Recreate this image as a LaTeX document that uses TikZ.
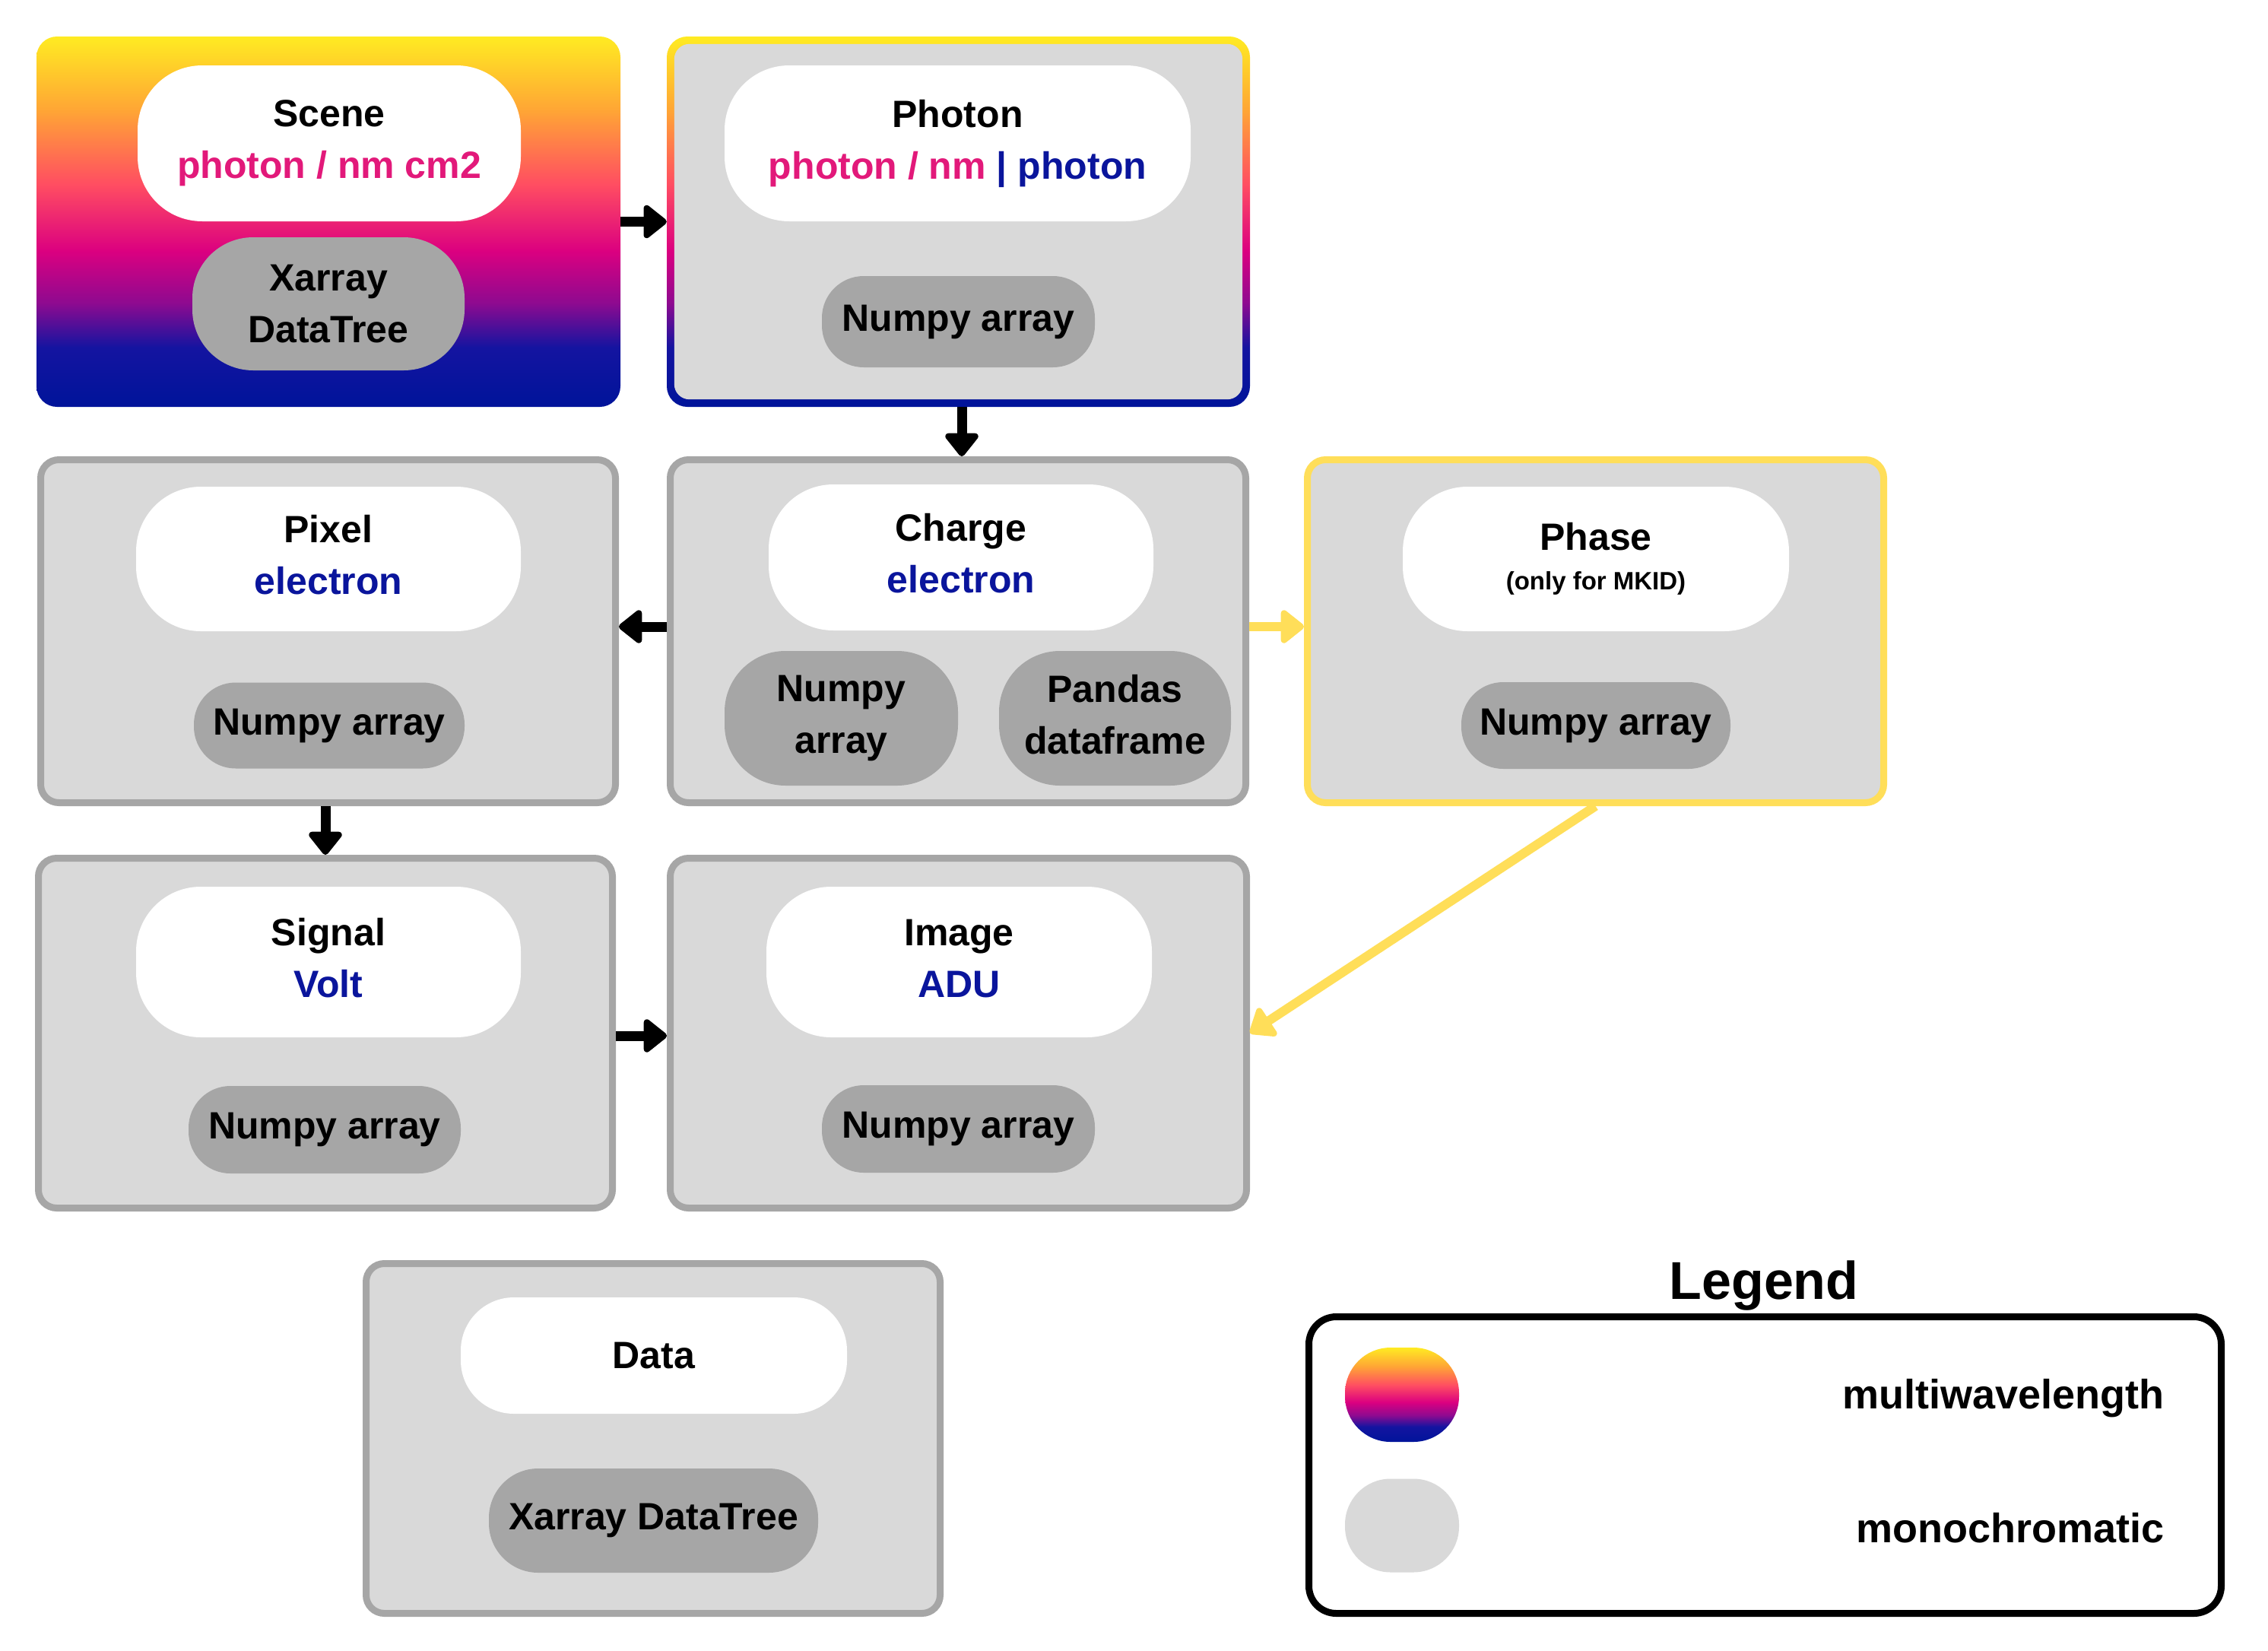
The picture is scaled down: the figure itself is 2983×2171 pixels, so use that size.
\documentclass[tikz,border=0pt]{standalone}
\usepackage{fontspec}
\setmainfont{Liberation Sans}
\usetikzlibrary{arrows.meta}
\definecolor{BoxFill}{HTML}{D9D9D9}
\definecolor{BoxLine}{HTML}{A6A6A6}
\definecolor{PillGray}{HTML}{A6A6A6}
\definecolor{MkidYellow}{HTML}{FFDE59}
\definecolor{UnitPink}{HTML}{E2197A}
\definecolor{UnitBlue}{HTML}{0A159C}
\definecolor{SpecYellow}{HTML}{FFEB22}
\definecolor{SpecOrange}{HTML}{FFA535}
\definecolor{SpecCoral}{HTML}{FF4D62}
\definecolor{SpecMagenta}{HTML}{DB0080}
\definecolor{SpecPurple}{HTML}{8E0A90}
\definecolor{SpecIndigo}{HTML}{1414A0}
\definecolor{SpecDeep}{HTML}{00149A}
\pgfdeclareverticalshading{spectrum}{100bp}{color(0bp)=(SpecDeep); color(25bp)=(SpecDeep);
  color(33bp)=(SpecIndigo); color(39bp)=(SpecPurple); color(46bp)=(SpecMagenta);
  color(55bp)=(SpecCoral); color(65bp)=(SpecOrange); color(75bp)=(SpecYellow); color(100bp)=(SpecYellow)}

\begin{document}
\begin{tikzpicture}[x=1pt,y=-1pt,>={Triangle[length=33pt,width=50pt,round]},
    font=\bfseries\fontsize{50}{68}\selectfont]
  \tikzstyle{stagebox}=[draw=BoxLine,fill=BoxFill,line width=9pt,rounded corners=24pt,inner sep=0pt]
  \tikzstyle{specbox}=[shade,shading=spectrum,rounded corners=27pt,inner sep=0pt]
  \tikzstyle{namepill}=[fill=white,rounded corners=85pt,align=center,inner sep=0pt]
  \tikzstyle{typepill}=[fill=PillGray,rounded corners=55pt,align=center,inner sep=0pt]
  \tikzstyle{flow}=[->,line width=13pt,draw=black]
  \tikzstyle{mkflow}=[->,line width=12pt,draw=MkidYellow]
  \useasboundingbox (0,0) rectangle (2983,2171);

  % stages
  \node[specbox,minimum width=768pt,minimum height=487pt] (scene) at (432,291.5) {};
  \node[specbox,minimum width=767pt,minimum height=487pt] (photon) at (1260.5,291.5) {};
  \fill[BoxFill,rounded corners=20pt] ([shift={(10,10)}]photon.north west) rectangle ([shift={(-10,-10)}]photon.south east);
  \node[stagebox,minimum width=756pt,minimum height=451pt] (pixel) at (431.5,830) {};
  \node[stagebox,minimum width=757pt,minimum height=451pt] (charge) at (1260,830) {};
  \node[stagebox,draw=MkidYellow,minimum width=758pt,minimum height=451pt] (phase) at (2098.5,830) {};
  \node[stagebox,minimum width=755pt,minimum height=460pt] (signal) at (428,1358.5) {};
  \node[stagebox,minimum width=758pt,minimum height=460pt] (image) at (1260.5,1358.5) {};
  \node[stagebox,minimum width=755pt,minimum height=460pt] (data) at (859,1891.5) {};

  % names and units
  \node[namepill,minimum width=504pt,minimum height=205pt] (sceneName) at (433,188.5)
    {Scene\\\color{UnitPink}photon / nm cm2};
  \node[namepill,minimum width=613pt,minimum height=205pt] (photonName) at (1259.5,188.5)
    {Photon\\{\color{UnitPink}photon / nm} {\color{UnitBlue}| photon}};
  \node[namepill,minimum width=506pt,minimum height=190pt] (pixelName) at (432,735)
    {Pixel\\\color{UnitBlue}electron\vphantom{p}};
  \node[namepill,minimum width=506pt,minimum height=192pt] (chargeName) at (1264,733)
    {Charge\\\color{UnitBlue}electron\vphantom{p}};
  \node[namepill,minimum width=508pt,minimum height=190pt] (phaseName) at (2099,735)
    {Phase\\[-16pt]{\fontsize{33}{40}\selectfont (only for MKID)}};
  \node[namepill,minimum width=506pt,minimum height=198pt] (signalName) at (432,1265)
    {Signal\\\color{UnitBlue}Volt\vphantom{p}};
  \node[namepill,minimum width=507pt,minimum height=198pt] (imageName) at (1261.5,1265)
    {Image\\\color{UnitBlue}ADU\vphantom{p}};
  \node[namepill,rounded corners=70pt,minimum width=508pt,minimum height=153pt] (dataName) at (860,1782.5) {Data};

  % containers
  \node[typepill,rounded corners=80pt,minimum width=358pt,minimum height=175pt] (sceneType) at (432,399.5) {Xarray\\DataTree};
  \node[typepill,minimum width=359pt,minimum height=120pt] (photonType) at (1260.5,423) {Numpy array};
  \node[typepill,minimum width=356pt,minimum height=113pt] (pixelType) at (433,954) {Numpy array};
  \node[typepill,rounded corners=80pt,minimum width=307pt,minimum height=177pt] (chargeNumpy) at (1106.5,944.5) {Numpy\\array};
  \node[typepill,rounded corners=80pt,minimum width=305pt,minimum height=177pt] (chargePandas) at (1466.5,944.5) {Pandas\\dataframe\vphantom{p}};
  \node[typepill,minimum width=354pt,minimum height=114pt] (phaseType) at (2099,954) {Numpy array};
  \node[typepill,minimum width=358pt,minimum height=115pt] (signalType) at (427,1485.5) {Numpy array};
  \node[typepill,minimum width=359pt,minimum height=115pt] (imageType) at (1260.5,1484.5) {Numpy array};
  \node[typepill,rounded corners=65pt,minimum width=433pt,minimum height=137pt] (dataType) at (859.5,1999.5) {Xarray DataTree};

  % flow
  \draw[flow] (scene) -- (photon);
  \draw[flow] ([xshift=4.5pt]photon.south) -- ([xshift=4.5pt]photon.south |- charge.north);
  \draw[flow] ([yshift=6pt]charge.west) -- ([yshift=6pt]charge.west -| pixel.east);
  \draw[mkflow] ([yshift=6pt]charge.east) -- ([yshift=6pt]charge.east -| phase.west);
  \draw[flow] (signal.north |- pixel.south) -- (signal.north);
  \draw[flow] ([yshift=-3.5pt]signal.east) -- ([yshift=-3.5pt]signal.east -| image.west);
  \draw[mkflow] (phase.south) -- (image.east);

  % legend
  \node[anchor=base,font=\bfseries\fontsize{70}{84}\selectfont] (legendTitle) at (2320,1708) {Legend};
  \node[draw=black,line width=9pt,rounded corners=36pt,minimum width=1200pt,minimum height=390pt] (legend) at (2321.5,1926.5) {};
  \node[specbox,rounded corners=60pt,minimum width=150pt,minimum height=124pt] (legMulti) at (1844,1834) {};
  \node[fill=BoxFill,rounded corners=60pt,minimum width=150pt,minimum height=123pt] (legMono) at (1844,2006) {};
  \node[anchor=base east,font=\bfseries\fontsize{54}{64}\selectfont] (multiLbl) at (2850,1852) {multiwavelength};
  \node[anchor=base east,font=\bfseries\fontsize{54}{64}\selectfont] (monoLbl) at (2850,2028) {monochromatic};
\end{tikzpicture}
\end{document}
